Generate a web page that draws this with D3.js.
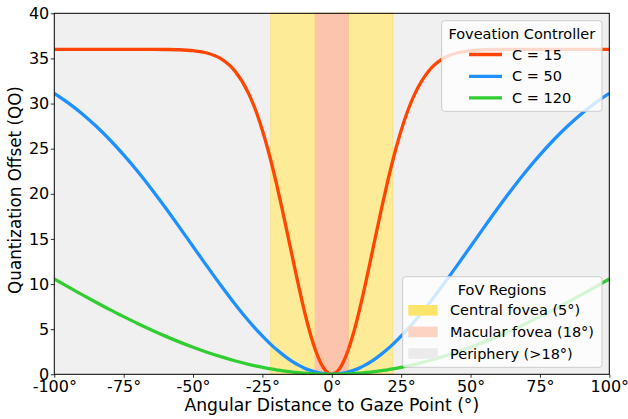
<!DOCTYPE html>
<html>
<head>
<meta charset="utf-8">
<script src="https://cdn.jsdelivr.net/npm/d3@7"></script>
<style>
  body { margin: 0; background: #fff; }
  svg { display: block; font-family: "DejaVu Sans", sans-serif; }
</style>
</head>
<body>
<svg id="chart" width="628" height="419"></svg>
<script>
// ---- Data ----
const angles = [-100,-95,-90,-85,-80,-75,-70,-65,-60,-55,-50,-45,-40,-35,-30,-28,-26,-24,-22,-20,-18,-16,-14,-12,-10,-8,-6,-4,-2,0,
                2,4,6,8,10,12,14,16,18,20,22,24,26,28,30,35,40,45,50,55,60,65,70,75,80,85,90,95,100];
const qoC15 = [36.00,36.00,36.00,36.00,36.00,36.00,36.00,36.00,35.99,35.96,35.86,35.60,34.97,33.63,31.13,29.70,27.99,25.99,23.72,21.20,18.48,15.62,12.71,9.86,7.17,4.77,2.77,1.26,0.32,0,
               0.32,1.26,2.77,4.77,7.17,9.86,12.71,15.62,18.48,21.20,23.72,25.99,27.99,29.70,31.13,33.63,34.97,35.60,35.86,35.96,35.99,36.00,36.00,36.00,36.00,36.00,36.00,36.00,36.00];
const qoC50 = [31.13,30.08,28.88,27.51,25.99,24.31,22.49,20.54,18.48,16.34,14.16,11.99,9.86,7.82,5.93,5.22,4.55,3.92,3.32,2.77,2.26,1.80,1.38,1.02,0.71,0.46,0.26,0.12,0.03,0,
               0.03,0.12,0.26,0.46,0.71,1.02,1.38,1.80,2.26,2.77,3.32,3.92,4.55,5.22,5.93,7.82,9.86,11.99,14.16,16.34,18.48,20.54,22.49,24.31,25.99,27.51,28.88,30.08,31.13];
const qoC120 = [10.56,9.68,8.83,7.99,7.17,6.39,5.63,4.91,4.23,3.59,2.99,2.44,1.95,1.50,1.11,0.97,0.84,0.71,0.60,0.50,0.40,0.32,0.24,0.18,0.12,0.08,0.04,0.02,0.01,0,
                0.01,0.02,0.04,0.08,0.12,0.18,0.24,0.32,0.40,0.50,0.60,0.71,0.84,0.97,1.11,1.50,1.95,2.44,2.99,3.59,4.23,4.91,5.63,6.39,7.17,7.99,8.83,9.68,10.56];
const seriesNames = ["C = 15", "C = 50", "C = 120"];
const seriesColors = ["#ff4500", "#1e90ff", "#32cd32"];
const xTicks = [-100, -75, -50, -25, 0, 25, 50, 75, 100];
const yTicks = [0, 5, 10, 15, 20, 25, 30, 35, 40];
// FoV regions: [start, end]
const regionNames = ["Central fovea (5°)", "Macular fovea (18°)", "Periphery (>18°)"];
const centralSpan = [-22, 22];
const macularSpan = [-6, 6];
const peripherySpan = [-100, 100];

// ---- Layout ----
const svg = d3.select("#chart");
const W = 628, H = 419;
const m = { left: 54.3, right: 18.7, top: 13.3, bottom: 44.7 };
const pw = W - m.left - m.right, ph = H - m.top - m.bottom;

const x = d3.scaleLinear().domain([-100, 100]).range([0, pw]);
const y = d3.scaleLinear().domain([0, 40]).range([ph, 0]);

const g = svg.append("g").attr("transform", `translate(${m.left},${m.top})`);

svg.append("defs").append("clipPath").attr("id", "clip")
  .append("rect").attr("width", pw).attr("height", ph);

// periphery background
g.append("rect").attr("x", x(peripherySpan[0])).attr("y", 0)
  .attr("width", x(peripherySpan[1]) - x(peripherySpan[0])).attr("height", ph)
  .attr("fill", "#f0f0f0");
// central fovea span
g.append("rect").attr("x", x(centralSpan[0])).attr("y", 0)
  .attr("width", x(centralSpan[1]) - x(centralSpan[0])).attr("height", ph)
  .attr("fill", "#feeb98").attr("stroke", "#fbe181").attr("stroke-width", 1);
// macular fovea span
g.append("rect").attr("x", x(macularSpan[0])).attr("y", 0)
  .attr("width", x(macularSpan[1]) - x(macularSpan[0])).attr("height", ph)
  .attr("fill", "#fdc4ad").attr("stroke", "#fcc98c").attr("stroke-width", 1);

// curves
const allSeries = [qoC15, qoC50, qoC120];
const line = d3.line()
  .x((d, i) => x(angles[i]))
  .y(d => y(d))
  .curve(d3.curveMonotoneX);
const curves = g.append("g").attr("clip-path", "url(#clip)");
allSeries.forEach((s, k) => {
  curves.append("path").datum(s)
    .attr("d", line)
    .attr("fill", "none")
    .attr("stroke", seriesColors[k])
    .attr("stroke-width", 3.3)
    .attr("stroke-linejoin", "round")
    .attr("stroke-linecap", "butt");
});

// axes
const fmtDeg = d => d + "°";
const xAxis = g.append("g").attr("transform", `translate(0,${ph})`)
  .call(d3.axisBottom(x).tickValues(xTicks).tickFormat(fmtDeg).tickSize(3.5).tickPadding(3));
const yAxis = g.append("g")
  .call(d3.axisLeft(y).tickValues(yTicks).tickFormat(d => d).tickSize(3.5).tickPadding(1.5));
[xAxis, yAxis].forEach(a => {
  a.selectAll("text").attr("font-size", 16).attr("fill", "#000")
    .attr("font-family", "DejaVu Sans");
  a.selectAll("line").attr("stroke", "#000").attr("stroke-width", 0.8);
  a.select(".domain").remove();
});
xAxis.selectAll("text").attr("y", 17.4).attr("dy", 0);

// frame
g.append("rect").attr("width", pw).attr("height", ph)
  .attr("fill", "none").attr("stroke", "#000").attr("stroke-width", 1);

// axis labels
svg.append("text").attr("x", m.left + pw / 2).attr("y", 411)
  .attr("text-anchor", "middle").attr("font-size", 17.2).attr("fill", "#000")
  .text("Angular Distance to Gaze Point (°)");
svg.append("text").attr("transform", "translate(21,190) rotate(-90)")
  .attr("text-anchor", "middle").attr("font-size", 16.8).attr("fill", "#000")
  .text("Quantization Offset (QO)");

// legend 1: Foveation Controller
const L1 = svg.append("g");
L1.append("rect").attr("x", 441.7).attr("y", 20.7).attr("width", 160.3).attr("height", 90.6)
  .attr("rx", 3).attr("fill", "#fff").attr("fill-opacity", 0.8)
  .attr("stroke", "#cccccc").attr("stroke-width", 1);
L1.append("text").attr("x", 521.8).attr("y", 33.5).attr("dy", "0.35em")
  .attr("text-anchor", "middle").attr("font-size", 14.5).attr("fill", "#000")
  .text("Foveation Controller");
const l1y = [54.5, 76.3, 97.9];
seriesNames.forEach((n, k) => {
  L1.append("line").attr("x1", 469).attr("x2", 502).attr("y1", l1y[k]).attr("y2", l1y[k])
    .attr("stroke", seriesColors[k]).attr("stroke-width", 3.3);
  L1.append("text").attr("x", 512).attr("y", l1y[k]).attr("dy", "0.35em")
    .attr("font-size", 14.5).attr("fill", "#000").text(n);
});

// legend 2: FoV Regions
const patchColors = ["#fde46a", "#fdd3c4", "#ebebeb"];
const L2 = svg.append("g");
L2.append("rect").attr("x", 402.7).attr("y", 276.7).attr("width", 199.3).attr("height", 90.6)
  .attr("rx", 3).attr("fill", "#fff").attr("fill-opacity", 0.8)
  .attr("stroke", "#cccccc").attr("stroke-width", 1);
L2.append("text").attr("x", 502).attr("y", 289.5).attr("dy", "0.35em")
  .attr("text-anchor", "middle").attr("font-size", 14.5).attr("fill", "#000")
  .text("FoV Regions");
const l2y = [310.3, 331.9, 353.5];
regionNames.forEach((n, k) => {
  L2.append("rect").attr("x", 408.3).attr("y", l2y[k] - 5.3).attr("width", 29.4).attr("height", 10.6)
    .attr("fill", patchColors[k]);
  L2.append("text").attr("x", 450).attr("y", l2y[k]).attr("dy", "0.35em")
    .attr("font-size", 14.5).attr("fill", "#000").text(n);
});
</script>
</body>
</html>
